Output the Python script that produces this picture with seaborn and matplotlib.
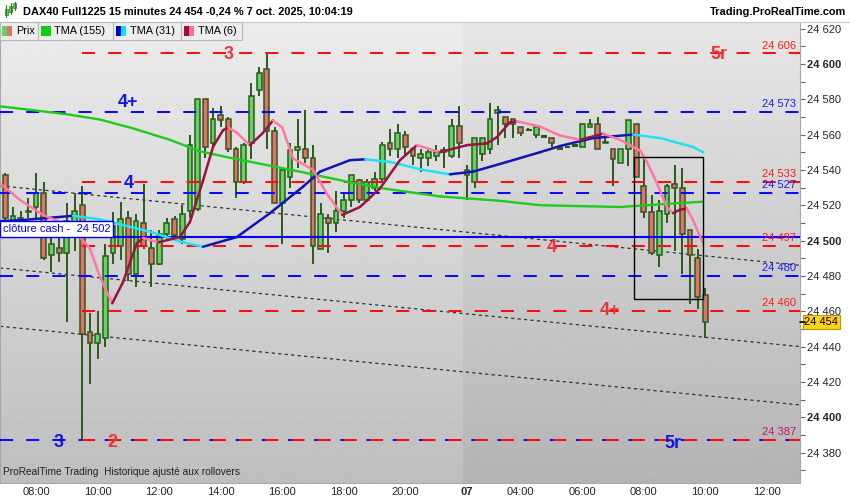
import numpy as np
import matplotlib
matplotlib.use("Agg")
import matplotlib.pyplot as plt
import seaborn as sns
from matplotlib.patches import Rectangle
from matplotlib.collections import LineCollection
from matplotlib.lines import Line2D

sns.set_theme(style="white")
plt.rcParams['font.family'] = ['Liberation Sans', 'DejaVu Sans']

# ---------------- data (15-minute candles, index 0 = 07:00 on 6 Oct) ----------------
opens = [24537, 24511, 24512, 24516, 24519, 24527, 24492, 24496, 24493, 24510,
         24520, 24448, 24442, 24445, 24493, 24497, 24513, 24481, 24510, 24496,
         24487, 24504, 24512, 24501, 24517, 24518, 24580, 24555, 24571, 24569,
         24552, 24533, 24555, 24585, 24597, 24562, 24521, 24536, 24551, 24552,
         24547, 24495, 24513, 24510, 24517, 24523, 24534, 24523, 24530, 24535,
         24555, 24552, 24560, 24552, 24547, 24547, 24548, 24550, 24548, 24565,
         24537, 24533, 24549, 24552, 24572, 24570, 24569, 24564, 24562.5, 24560,
         24559, 24558, 24552, 24553, 24554, 24553, 24564, 24566, 24555, 24552,
         24544, 24552, 24566, 24531, 24516, 24492, 24515, 24532, 24530, 24506,
         24490, 24469]
highs = [24538, 24519, 24517, 24524, 24538, 24533, 24506, 24503, 24521, 24527,
         24531, 24459, 24460, 24498, 24516, 24522, 24517, 24515, 24532, 24506,
         24506, 24513, 24514, 24520, 24560, 24580, 24580, 24575, 24576, 24570,
         24553, 24555, 24589, 24598, 24606, 24564, 24541, 24555, 24569, 24574,
         24554, 24521, 24515, 24528, 24527, 24537, 24535, 24535, 24539, 24556,
         24563, 24566, 24562, 24553, 24552, 24551, 24554, 24553, 24569, 24576,
         24543, 24558, 24558, 24578, 24576, 24570, 24569, 24564, 24563.5, 24565,
         24559.5, 24558, 24552.5, 24553.5, 24554.5, 24566, 24569, 24570, 24560, 24552,
         24552, 24568, 24566, 24547, 24526, 24523, 24532, 24543, 24541, 24506,
         24495, 24473]
lows = [24509, 24507, 24509, 24513, 24513, 24489, 24482, 24488, 24454, 24494,
        24387, 24419, 24433, 24440, 24487, 24489, 24477, 24474, 24495, 24474,
        24486, 24501, 24500, 24498, 24513, 24517, 24547, 24553, 24564, 24550,
        24524, 24532, 24546, 24582, 24552, 24521, 24498, 24530, 24541, 24544,
        24487, 24495, 24493, 24505, 24513, 24519, 24521, 24522, 24528, 24533,
        24548, 24547, 24548, 24543, 24539, 24542, 24545, 24541, 24547, 24547,
        24523, 24530, 24545, 24549, 24554, 24558, 24558, 24559, 24562, 24558,
        24558.5, 24553, 24551.5, 24552.5, 24553.5, 24553, 24564, 24552, 24555, 24531,
        24544, 24542, 24536, 24513, 24492, 24485, 24510, 24494, 24481, 24464,
        24461, 24445]
closes = [24513, 24514, 24513, 24517, 24527, 24490, 24498, 24493, 24511, 24517,
          24447, 24442, 24447, 24491, 24508, 24512, 24481, 24511, 24497, 24487,
          24504, 24510, 24503, 24515, 24554, 24580, 24553, 24569, 24568, 24552,
          24533, 24554, 24582, 24595, 24562, 24521, 24540, 24551, 24553, 24547,
          24497, 24515, 24510, 24517, 24523, 24537, 24523, 24533, 24535, 24554,
          24552, 24561, 24553, 24548, 24549, 24550, 24550, 24551, 24565, 24555,
          24540, 24558, 24558, 24569, 24574, 24566, 24566, 24561, 24563, 24564,
          24559.5, 24555, 24552.5, 24553.5, 24554.5, 24566, 24566, 24552, 24556, 24546,
          24552, 24568, 24536, 24516, 24493, 24517, 24531, 24530, 24504, 24492,
          24468, 24454]

# TMA (155)
ma155_k = [-0.7, 8.0, 12.3, 16.6, 21.4, 25.3, 29.6, 33.1, 38.3, 44.8, 49.1, 56.5,
           64.3, 69.5, 74.7, 79.9, 85.1, 90.7]
ma155_v = [24576, 24571.5, 24568.5, 24563.5, 24557, 24550.5, 24546.5, 24543.5, 24539,
           24533, 24529.5, 24525, 24522.5, 24520, 24519.5, 24519, 24520.5, 24522]
# TMA (31)
ma31_k = [-0.7, 1.9, 8.8, 12.3, 18.8, 22.7, 25.7, 30.1, 34.4, 38.7, 40.9, 44.8, 46.8,
          50.0, 54.3, 57.8, 60.8, 65.2, 69.5, 72.1, 76.4, 81.6, 85.1, 89.4, 90.7]
ma31_v = [24511, 24511.5, 24514, 24512, 24505, 24499.5, 24496.5, 24502, 24515.5,
          24530.5, 24539, 24545.5, 24546, 24544.5, 24540, 24537.5, 24539, 24544.5,
          24550, 24553.5, 24558, 24560, 24558, 24553, 24550]
# TMA (6)
ma6_k = [-0.7, 1.9, 4.9, 7.1, 9.3, 11.0, 12.3, 13.9, 15.3, 17.1, 17.9, 19.9, 22.7,
         24.0, 25.7, 27.0, 28.3, 29.0, 30.1, 31.8, 33.5, 34.8, 36.0, 37.4, 40.0,
         41.8, 43.8, 44.8, 46.1, 48.7, 51.3, 53.5, 56.5, 60.0, 62.6, 63.9, 65.6,
         66.5, 69.5, 72.1, 74.7, 76.0, 77.7, 79.9, 82.5, 83.4, 84.7, 86.0, 86.8,
         87.7, 88.6, 89.4, 90.7]
ma6_v = [24532.5, 24523, 24514.5, 24510.5, 24504, 24495.5, 24479.5, 24464.5, 24476.5,
         24498.5, 24501.5, 24499, 24502, 24510.5, 24534, 24553, 24562.5, 24564,
         24561, 24554, 24561, 24568, 24564, 24546.5, 24540, 24526.5, 24514.5,
         24516.5, 24519, 24529.5, 24545.5, 24554, 24550, 24554, 24555, 24558.5,
         24567, 24567.5, 24564.5, 24559.5, 24557, 24558.5, 24560.5, 24557, 24551,
         24544.5, 24532.5, 24519, 24515.5, 24517.5, 24518, 24511.5, 24498.5]

# horizontal levels
blue_levels = [24573, 24527, 24480, 24387]
red_levels = [24606, 24533, 24497, 24460, 24387]
red_start_idx = 10          # red levels drawn from the session-low candle
cash_close = 24502
last_price = 24454

# parallel dotted trend channel: (k0, v0, k1, v1)
trend_lines = [(-0.69, 24531, 103.3, 24486),
               (-0.69, 24484.5, 103.3, 24440),
               (-0.69, 24451.5, 103.3, 24407)]
# rectangle drawn on chart: (k0, k1, v_low, v_high)
box_rect = (81.75, 90.7, 24467, 24547.3)

# big level tags: (text, k, baseline value, colour key)
level_tags = [("3", 29.0, 24602.5, "r"), ("5r", 92.7, 24602.5, "r"),
              ("4+", 16.0, 24575.5, "b"), ("4", 16.0, 24529.5, "b"),
              ("4", 71.0, 24493.5, "r"), ("4+", 78.6, 24458, "r"),
              ("3", 6.9, 24383, "b"), ("2", 13.9, 24383, "r"),
              ("5r", 86.8, 24382.5, "b")]

tick_pos = [4, 12, 20, 28, 36, 44, 52, 60, 67, 75, 83, 91, 99]
tick_lab = ["08:00", "10:00", "12:00", "14:00", "16:00", "18:00", "20:00",
            "07", "04:00", "06:00", "08:00", "10:00", "12:00"]
day_break = 59.5

# ---------------- figure ----------------
W, H = 850, 500
fig = plt.figure(figsize=(8.5, 5), dpi=100, facecolor="white")
ax = fig.add_axes([0, 17 / H, 800 / W, 461 / H])
XMIN, XMAX = -0.69, 103.3
YMIN, YMAX = 24362.8, 24623.7

# background gradients
g1 = np.linspace(0.925, 0.745, 256).reshape(-1, 1)
g2 = np.linspace(0.905, 0.705, 256).reshape(-1, 1)
ax.imshow(g1, extent=[XMIN, day_break, YMIN, YMAX], aspect="auto", cmap="gray",
          vmin=0, vmax=1, zorder=0, origin="upper")
ax.imshow(g2, extent=[day_break, XMAX, YMIN, YMAX], aspect="auto", cmap="gray",
          vmin=0, vmax=1, zorder=0, origin="upper")

RED = "#ff1a1a"
BLUE = "#1a1aff"
dash = (0, (6.5, 6.5))

# trend lines
for k0, v0, k1, v1 in trend_lines:
    ax.plot([k0, k1], [v0, v1], color="#333333", lw=0.9, ls=(0, (2.6, 2.6)), zorder=2)

# candles
idx = np.arange(len(opens))
wick_c = "#2b5a1c"
ax.vlines(idx, lows, highs, color=wick_c, lw=1.4, zorder=3)
for i in idx:
    o, c = opens[i], closes[i]
    up = c >= o
    h = abs(c - o)
    fc = "#63d463" if up else "#e57068"
    if h < 0.9:
        ax.bar(i, 0.9, bottom=min(o, c) - 0.2, width=0.62, color=wick_c,
               edgecolor=wick_c, lw=0.8, zorder=4)
    else:
        ax.bar(i, h, bottom=min(o, c), width=0.62, color=fc, edgecolor=wick_c,
               lw=1.1, zorder=4)

# levels
for v in blue_levels:
    ax.plot([XMIN, XMAX], [v, v], color="#0a0aff", lw=1.45, ls=dash, zorder=5)
for v in red_levels:
    ax.plot([red_start_idx, XMAX], [v, v], color="#ff0d0d", lw=1.45, ls=dash, zorder=5)
ax.plot([XMIN, XMAX], [cash_close, cash_close], color="#0000ff", lw=1.5, zorder=5)

# moving averages
sns.lineplot(x=ma155_k, y=ma155_v, color="#1ccc1c", lw=1.7, ax=ax, zorder=6,
             sort=False, estimator=None)


def two_tone(ks, vs, c_up, c_dn, lw):
    pts = np.column_stack([ks, vs])
    segs = np.stack([pts[:-1], pts[1:]], axis=1)
    cols = [c_up if vs[j + 1] >= vs[j] else c_dn for j in range(len(vs) - 1)]
    ax.add_collection(LineCollection(segs, colors=cols, lw=lw, zorder=6,
                                     capstyle="round", joinstyle="round"))


two_tone(ma31_k, ma31_v, "#1414b4", "#22e3f2", 1.8)
two_tone(ma6_k, ma6_v, "#99143f", "#ff78a0", 1.8)

# rectangle
k0, k1, vl, vh = box_rect
ax.add_patch(Rectangle((k0, vl), k1 - k0, vh - vl, fill=False, ec="black", lw=1.0,
                       zorder=7))

# level tags
for txt, k, v, col in level_tags:
    ax.text(k, v, txt, color=("#e8363c" if col == "r" else "#1414e6"), fontsize=13,
            fontweight="bold", ha="center", va="baseline", zorder=8)

# right-side price labels
def fmt(v):
    v = int(round(v))
    return f"{v // 1000} {v % 1000:03d}"


for v in blue_levels:
    if v in red_levels:
        continue
    ax.text(102.8, v + 2.7, fmt(v), color=BLUE, fontsize=8, ha="right",
            va="baseline", zorder=8)
for v in red_levels:
    colr = "#c8107a" if v in blue_levels else RED
    ax.text(102.8, v + 2.7, fmt(v), color=colr, fontsize=8, ha="right",
            va="baseline", zorder=8)

# cash close tag
ax.text(-0.3, cash_close + 4.5, "clôture cash -  " + fmt(cash_close), color="#0000ff",
        fontsize=8, ha="left", va="center", zorder=9,
        bbox=dict(boxstyle="square,pad=0.25", fc="white", ec="#0000ff", lw=1.0))

# bottom note
ax.text(0.004, 0.012, "ProRealTime Trading  Historique ajusté aux rollovers",
        transform=ax.transAxes, fontsize=7.3, color="#222222", ha="left",
        va="bottom", zorder=9)

ax.set_xlim(XMIN, XMAX)
ax.set_ylim(YMIN, YMAX)

# axes
ax.yaxis.tick_right()
yt = list(range(24380, 24621, 20))
ax.set_yticks(yt)
ax.set_yticklabels([fmt(v) for v in yt])
ax.set_yticks(list(range(24370, 24621, 10)), minor=True)
for lab, v in zip(ax.get_yticklabels(), yt):
    if v % 100 == 0:
        lab.set_fontweight("bold")
ax.tick_params(axis="y", which="both", direction="out", length=3.5, width=0.8,
               color="#666666", labelsize=8, pad=1.5, right=True, left=False)
ax.set_xticks(tick_pos)
ax.set_xticklabels(tick_lab)
for lab, t in zip(ax.get_xticklabels(), tick_lab):
    if t == "07":
        lab.set_fontweight("bold")
ax.tick_params(axis="x", length=0, labelsize=8, pad=3)
for s in ax.spines.values():
    s.set_color("#a8a8a8")
    s.set_linewidth(0.8)
ax.spines["top"].set_visible(False)
ax.grid(False)

# last price marker
ax.text(1.0 + 4.5 / 800, last_price, fmt(last_price), transform=ax.get_yaxis_transform(),
        fontsize=8, ha="left", va="center", color="black", zorder=10, clip_on=False,
        bbox=dict(boxstyle="square,pad=0.18", fc="#ffd21a", ec="#b99a00", lw=0.8))
ax.plot([1.0, 1.0 + 5 / 800], [last_price, last_price], color="black", lw=1.2,
        transform=ax.get_yaxis_transform(), clip_on=False, zorder=10)


# ---------------- header & legend (figure pixels) ----------------
def fx(x):
    return x / W


def fy(y):
    return 1 - y / H


fig.add_artist(Line2D([0, 1], [fy(21.5), fy(21.5)], color="#c8c8c8", lw=0.8))
# icon
for xi, y0, y1, yb0, yb1 in [(6, 5, 17, 9, 15), (10.5, 3, 14, 6, 12), (15, 2, 10, 3, 8)]:
    fig.add_artist(Line2D([fx(xi), fx(xi)], [fy(y1), fy(y0)], color="#2b7a1c", lw=0.8))
    fig.add_artist(Rectangle((fx(xi - 1.5), fy(yb1)), fx(3), yb1 / H - yb0 / H,
                             fc="#5fd35f", ec="#2b7a1c", lw=0.5))
fig.text(fx(23), fy(12), "DAX40 Full1225 15 minutes 24 454 -0,24 % 7 oct. 2025, 10:04:19",
         fontsize=7.9, fontweight="bold", ha="left", va="center", color="black")
fig.text(fx(846), fy(12), "Trading.ProRealTime.com", fontsize=7.9, fontweight="bold",
         ha="right", va="center", color="black")

leg = [(0, 37.5, "Prix", [("#5fd35f", 2, 7), ("#e57068", 7, 12)], 16),
       (37.5, 113, "TMA (155)", [("#11cc11", 41, 51)], 54),
       (113, 180.5, "TMA (31)", [("#0000cc", 116, 121), ("#00e8ff", 121, 126)], 129.5),
       (180.5, 242, "TMA (6)", [("#99103c", 184, 189), ("#ff6f99", 189, 194)], 198)]
for x0, x1, txt, patches, tx in leg:
    fig.add_artist(Rectangle((fx(x0), fy(39.5)), fx(x1 - x0), 17.5 / H, fc="#ededed",
                             ec="#b8b8b8", lw=0.8, zorder=20))
    for col, p0, p1 in patches:
        fig.add_artist(Rectangle((fx(p0), fy(36)), fx(p1 - p0), 10 / H, fc=col,
                                 ec="none", zorder=21))
    fig.text(fx(tx), fy(31), txt, fontsize=7.8, ha="left", va="center", color="black",
             zorder=22)

fig.savefig("out.png", dpi=100, facecolor="white")
